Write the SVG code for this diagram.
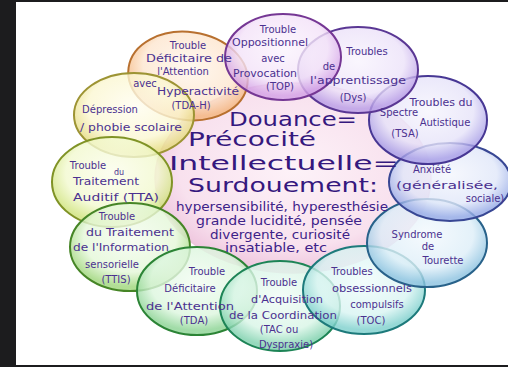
<svg xmlns="http://www.w3.org/2000/svg" width="508" height="367" viewBox="0 0 508 367">
<defs>
<radialGradient id="gc" cx="0.5" cy="0.45" r="0.55"><stop offset="0" stop-color="#fdf2f8"/><stop offset="0.75" stop-color="#f8e1ee"/><stop offset="1" stop-color="#eec4dd"/></radialGradient>
<radialGradient id="g1" cx="0.5" cy="0.4" r="0.55"><stop offset="0" stop-color="#fff6ec"/><stop offset="0.7" stop-color="#fde6cf"/><stop offset="1" stop-color="#f4b57c"/></radialGradient>
<radialGradient id="g2" cx="0.5" cy="0.4" r="0.55"><stop offset="0" stop-color="#fffdf0"/><stop offset="0.7" stop-color="#fbf7d2"/><stop offset="1" stop-color="#e6dc80"/></radialGradient>
<radialGradient id="g3" cx="0.5" cy="0.4" r="0.55"><stop offset="0" stop-color="#fbfdec"/><stop offset="0.7" stop-color="#f2f9cf"/><stop offset="1" stop-color="#cfe37a"/></radialGradient>
<radialGradient id="g4" cx="0.5" cy="0.4" r="0.55"><stop offset="0" stop-color="#f4fcef"/><stop offset="0.7" stop-color="#e4f7d8"/><stop offset="1" stop-color="#9ed67a"/></radialGradient>
<radialGradient id="g5" cx="0.5" cy="0.4" r="0.55"><stop offset="0" stop-color="#f2fcf2"/><stop offset="0.7" stop-color="#dcf6de"/><stop offset="1" stop-color="#8ad392"/></radialGradient>
<radialGradient id="g6" cx="0.5" cy="0.4" r="0.55"><stop offset="0" stop-color="#f0fcf6"/><stop offset="0.7" stop-color="#d8f5e6"/><stop offset="1" stop-color="#7cd0ac"/></radialGradient>
<radialGradient id="g7" cx="0.5" cy="0.4" r="0.55"><stop offset="0" stop-color="#f0fcfb"/><stop offset="0.7" stop-color="#d8f4f2"/><stop offset="1" stop-color="#7ccfcc"/></radialGradient>
<radialGradient id="g8" cx="0.5" cy="0.4" r="0.55"><stop offset="0" stop-color="#f3f9fd"/><stop offset="0.7" stop-color="#ddeef8"/><stop offset="1" stop-color="#8cc2e0"/></radialGradient>
<radialGradient id="g9" cx="0.5" cy="0.4" r="0.55"><stop offset="0" stop-color="#f4f6fd"/><stop offset="0.7" stop-color="#e0e7f9"/><stop offset="1" stop-color="#95a9e6"/></radialGradient>
<radialGradient id="g10" cx="0.5" cy="0.4" r="0.55"><stop offset="0" stop-color="#f6f5fd"/><stop offset="0.7" stop-color="#e6e3f9"/><stop offset="1" stop-color="#a69ce6"/></radialGradient>
<radialGradient id="g11" cx="0.5" cy="0.4" r="0.55"><stop offset="0" stop-color="#f8f4fd"/><stop offset="0.7" stop-color="#ece2f9"/><stop offset="1" stop-color="#b89ce6"/></radialGradient>
<radialGradient id="g12" cx="0.5" cy="0.4" r="0.55"><stop offset="0" stop-color="#fbf4fd"/><stop offset="0.7" stop-color="#f3e2f8"/><stop offset="1" stop-color="#d3a0e6"/></radialGradient>
</defs>
<style>
.bub{stroke-width:2;fill-opacity:0.8}
.lb{font-family:"DejaVu Sans","Liberation Sans",sans-serif;font-size:10px;fill:#4b3190;text-anchor:middle}
.big{font-family:"DejaVu Sans","Liberation Sans",sans-serif;font-size:20px;fill:#35187e;text-anchor:middle}
.mid{font-family:"DejaVu Sans","Liberation Sans",sans-serif;font-size:11.5px;fill:#3d2288;text-anchor:middle}
</style>
<rect x="0" y="0" width="508" height="367" fill="#1c1c1e"/>
<rect x="16" y="2" width="492" height="363" fill="#ffffff"/>

<g id="center">
<ellipse cx="293" cy="178" rx="138" ry="95" fill="url(#gc)" stroke="#ecc6dc" stroke-width="1.5"/>
</g>

<g id="tdah">
<ellipse class="bub" cx="188" cy="76" rx="60" ry="44" fill="url(#g1)" stroke="#b8702f" transform="rotate(8 188 76)"/>
</g>
<g id="depression">
<ellipse class="bub" cx="134" cy="115" rx="60" ry="42" fill="url(#g2)" stroke="#9d9434"/>
</g>
<g id="tta">
<ellipse class="bub" cx="112" cy="182" rx="60" ry="45" fill="url(#g3)" stroke="#809326"/>
</g>
<g id="ttis">
<ellipse class="bub" cx="130" cy="247" rx="60" ry="44" fill="url(#g4)" stroke="#468526"/>
</g>
<g id="tda">
<ellipse class="bub" cx="197" cy="291" rx="60" ry="44" fill="url(#g5)" stroke="#2c8436"/>
</g>
<g id="tac">
<ellipse class="bub" cx="280" cy="306" rx="60" ry="45" fill="url(#g6)" stroke="#1d8456"/>
</g>
<g id="toc">
<ellipse class="bub" cx="364" cy="290" rx="61" ry="44" fill="url(#g7)" stroke="#1d7a7b"/>
</g>
<g id="tourette">
<ellipse class="bub" cx="427" cy="243" rx="60" ry="44" fill="url(#g8)" stroke="#28628a"/>
</g>
<g id="anxiete">
<ellipse class="bub" cx="450" cy="182" rx="61" ry="39" fill="url(#g9)" stroke="#384794"/>
</g>
<g id="tsa">
<ellipse class="bub" cx="428" cy="120" rx="59" ry="44" fill="url(#g10)" stroke="#473794"/>
</g>
<g id="apprentissage">
<ellipse class="bub" cx="358" cy="70" rx="60" ry="43" fill="url(#g11)" stroke="#5a3794"/>
</g>
<g id="top">
<ellipse class="bub" cx="283" cy="57" rx="58" ry="43" fill="url(#g12)" stroke="#753794"/>
</g>

<g id="labels">
<text class="big" x="293" y="126" textLength="128" lengthAdjust="spacingAndGlyphs">Douance=</text>
<text class="big" x="252" y="146" textLength="128" lengthAdjust="spacingAndGlyphs">Précocité</text>
<text class="big" x="284" y="170" textLength="230" lengthAdjust="spacingAndGlyphs">Intellectuelle=</text>
<text class="big" x="283" y="192" textLength="190" lengthAdjust="spacingAndGlyphs">Surdouement:</text>
<text class="mid" x="282" y="211" textLength="212" lengthAdjust="spacingAndGlyphs">hypersensibilité, hyperesthésie</text>
<text class="mid" x="279" y="225" textLength="166" lengthAdjust="spacingAndGlyphs">grande lucidité, pensée</text>
<text class="mid" x="280" y="239" textLength="140" lengthAdjust="spacingAndGlyphs">divergente, curiosité</text>
<text class="mid" x="276" y="252" textLength="102" lengthAdjust="spacingAndGlyphs">insatiable, etc</text>

<text class="lb" x="188" y="49">Trouble</text>
<text class="lb" x="189" y="62" textLength="86" lengthAdjust="spacingAndGlyphs">Déficitaire de</text>
<text class="lb" x="183" y="75">l'Attention</text>
<text class="lb" x="145" y="87">avec</text>
<text class="lb" x="198" y="95" textLength="82" lengthAdjust="spacingAndGlyphs">Hyperactivité</text>
<text class="lb" x="191" y="109">(TDA-H)</text>

<text class="lb" x="110" y="113">Dépression</text>
<text class="lb" x="131" y="131" textLength="102" lengthAdjust="spacingAndGlyphs">/ phobie scolaire</text>

<text class="lb" x="88" y="169">Trouble</text>
<text class="lb" x="119" y="175" style="font-size:8px">du</text>
<text class="lb" x="106" y="185" textLength="66" lengthAdjust="spacingAndGlyphs">Traitement</text>
<text class="lb" x="116" y="201" textLength="86" lengthAdjust="spacingAndGlyphs">Auditif (TTA)</text>

<text class="lb" x="117" y="220">Trouble</text>
<text class="lb" x="130" y="236" textLength="88" lengthAdjust="spacingAndGlyphs">du Traitement</text>
<text class="lb" x="121" y="251" textLength="96" lengthAdjust="spacingAndGlyphs">de l'Information</text>
<text class="lb" x="112" y="268">sensorielle</text>
<text class="lb" x="116" y="283">(TTIS)</text>

<text class="lb" x="207" y="275">Trouble</text>
<text class="lb" x="190" y="292">Déficitaire</text>
<text class="lb" x="190" y="310" textLength="88" lengthAdjust="spacingAndGlyphs">de l'Attention</text>
<text class="lb" x="194" y="324">(TDA)</text>

<text class="lb" x="279" y="286">Trouble</text>
<text class="lb" x="287" y="303" textLength="72" lengthAdjust="spacingAndGlyphs">d'Acquisition</text>
<text class="lb" x="283" y="319" textLength="108" lengthAdjust="spacingAndGlyphs">de la Coordination</text>
<text class="lb" x="279" y="333">(TAC ou</text>
<text class="lb" x="286" y="348">Dyspraxie)</text>

<text class="lb" x="352" y="275">Troubles</text>
<text class="lb" x="372" y="292" textLength="80" lengthAdjust="spacingAndGlyphs">obsessionnels</text>
<text class="lb" x="377" y="308">compulsifs</text>
<text class="lb" x="371" y="324">(TOC)</text>

<text class="lb" x="417" y="238">Syndrome</text>
<text class="lb" x="428" y="250">de</text>
<text class="lb" x="443" y="264">Tourette</text>

<text class="lb" x="432" y="173">Anxiété</text>
<text class="lb" x="447" y="189" textLength="102" lengthAdjust="spacingAndGlyphs">(généralisée,</text>
<text class="lb" x="485" y="202">sociale)</text>

<text class="lb" x="441" y="106" textLength="63" lengthAdjust="spacingAndGlyphs">Troubles du</text>
<text class="lb" x="399" y="116">Spectre</text>
<text class="lb" x="445" y="126">Autistique</text>
<text class="lb" x="405" y="137">(TSA)</text>

<text class="lb" x="367" y="55">Troubles</text>
<text class="lb" x="329" y="70">de</text>
<text class="lb" x="358" y="84" textLength="96" lengthAdjust="spacingAndGlyphs">l'apprentissage</text>
<text class="lb" x="353" y="101">(Dys)</text>

<text class="lb" x="278" y="33">Trouble</text>
<text class="lb" x="270" y="46" textLength="76" lengthAdjust="spacingAndGlyphs">Oppositionnel</text>
<text class="lb" x="273" y="62">avec</text>
<text class="lb" x="265" y="77" textLength="64" lengthAdjust="spacingAndGlyphs">Provocation</text>
<text class="lb" x="280" y="90">(TOP)</text>
</g>
</svg>
